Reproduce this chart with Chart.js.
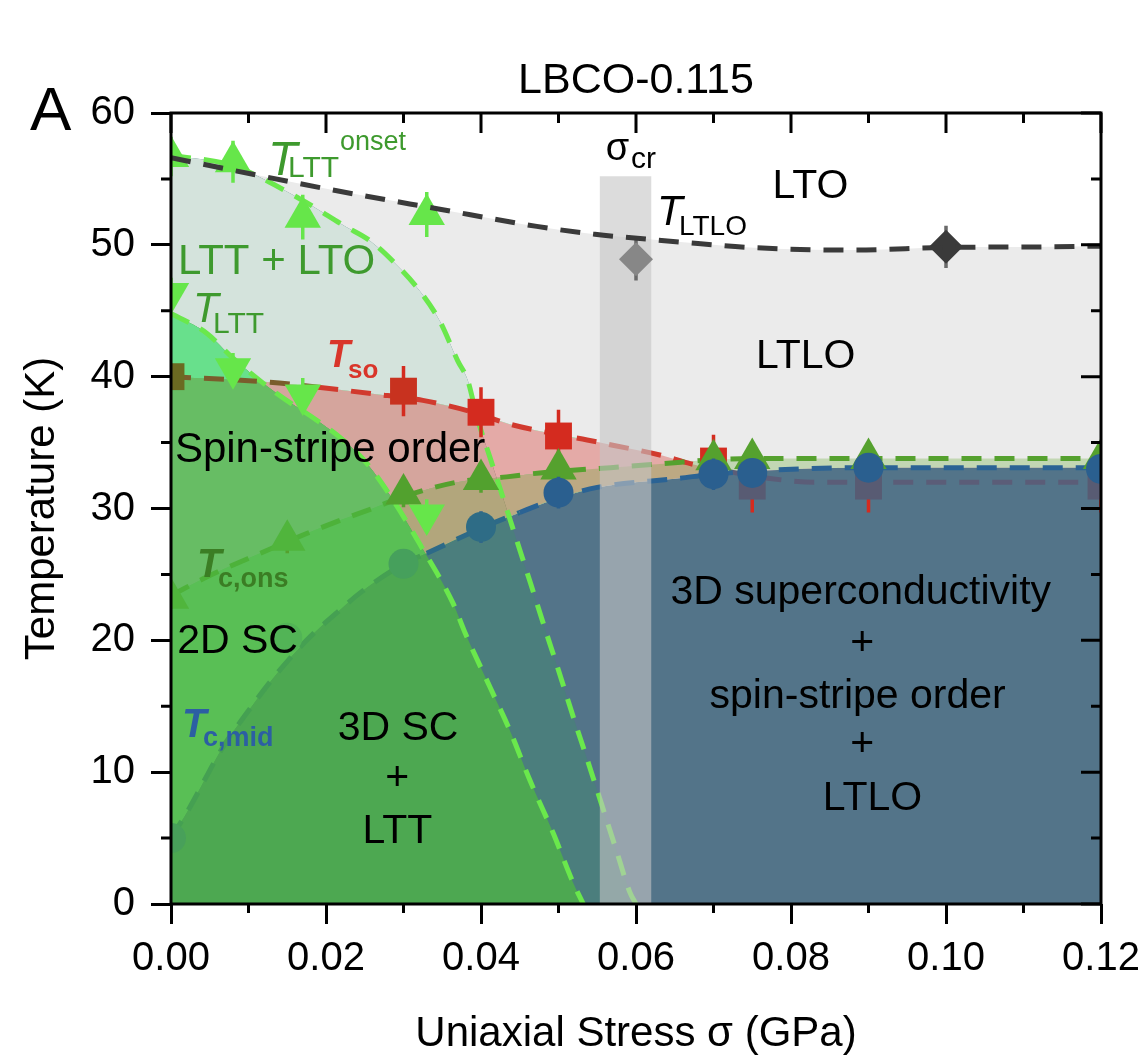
<!DOCTYPE html>
<html>
<head>
<meta charset="utf-8">
<title>LBCO-0.115</title>
<script src="https://cdn.jsdelivr.net/npm/chart.js@4.4.1/dist/chart.umd.min.js"></script>
<style>
  html, body { margin: 0; background: #fff; }
  canvas { display: block; }
</style>
</head>
<body>
<canvas id="chart" width="1146" height="1055"></canvas>
<script>
// phase boundaries (dashed curves), stress in GPa, temperature in K
const ltloSigma = [0, 0.0214, 0.0347, 0.0472, 0.0547, 0.062, 0.068, 0.0747, 0.088, 0.10, 0.114, 0.12];
const ltloT = [56.6, 54.1, 52.7, 51.4, 50.8, 50.4, 50.1, 49.8, 49.6, 49.8, 49.85, 49.9];

const onsetSigma = [0, 0.008, 0.0166, 0.0225, 0.0257, 0.0289, 0.0321, 0.0347, 0.037, 0.0383, 0.0395, 0.0412, 0.0428, 0.0446, 0.0463, 0.0483, 0.0498, 0.0519, 0.0538, 0.0556, 0.0575, 0.0592, 0.0600];
const onsetT = [56.8, 56.0, 53.5, 51.4, 50.3, 48.6, 46.5, 44.2, 41.2, 39.7, 36.9, 33.8, 30.9, 27.6, 24.5, 20.8, 18.1, 14.2, 10.8, 7.5, 4.0, 0.9, 0];

const lttSigma = [0, 0.0046, 0.008, 0.0137, 0.0188, 0.0218, 0.0253, 0.0287, 0.0321, 0.0364, 0.038, 0.0412, 0.0437, 0.0463, 0.0493, 0.0519, 0.0532];
const lttT = [44.8, 43.3, 41.4, 38.7, 36.7, 35.4, 33.4, 30.6, 27.3, 22.8, 20.5, 16.4, 13.2, 9.4, 5.4, 1.6, 0];

const soSigma = [0, 0.0124, 0.019, 0.026, 0.0325, 0.039, 0.0437, 0.05, 0.0537, 0.057, 0.0635, 0.067, 0.072, 0.077, 0.083, 0.095, 0.12];
const soT = [40.0, 39.6, 39.2, 38.7, 38.2, 37.3, 36.4, 35.6, 35.2, 34.8, 34.0, 33.4, 32.8, 32.3, 32.0, 32.0, 32.0];

const consSigma = [0, 0.0046, 0.0115, 0.0175, 0.0218, 0.026, 0.03, 0.0369, 0.0433, 0.0476, 0.0567, 0.0635, 0.07, 0.077, 0.09, 0.12];
const consT = [23.4, 24.8, 26.6, 28.1, 29.1, 30.0, 30.9, 32.0, 32.4, 32.7, 33.1, 33.4, 33.7, 33.8, 33.8, 33.8];

const midSigma = [0, 0.0022, 0.0067, 0.0098, 0.013, 0.0175, 0.0218, 0.0244, 0.03, 0.033, 0.04, 0.045, 0.05, 0.055, 0.0657, 0.07, 0.081, 0.09, 0.10, 0.12];
const midT = [5.0, 7.1, 11.9, 14.5, 17.0, 20.0, 22.3, 23.6, 25.8, 26.6, 28.5, 29.7, 30.8, 31.6, 32.3, 32.6, 33.0, 33.1, 33.1, 33.1];

// critical stress band
const crSigma = [0.0553, 0.062];
const crTop = [55.2, 55.2];

// measured points with error bars
const onsetPtSigma = [0, 0.008, 0.017, 0.033];
const onsetPtT = [56.7, 56.3, 52.1, 52.3];
const onsetPtErr = [1.5, 1.6, 1.7, 1.7];

const lttPtSigma = [0, 0.008, 0.017, 0.033];
const lttPtT = [46.3, 40.6, 38.6, 29.5];
const lttPtErr = [1.2, 1.2, 1.3, 1.2];

const soPtSigma = [0, 0.03, 0.04, 0.05, 0.07, 0.075, 0.09, 0.12];
const soPtT = [40.0, 38.9, 37.3, 35.5, 33.6, 31.7, 31.7, 31.7];
const soPtErr = [0, 1.9, 1.9, 2.0, 2.0, 2.0, 2.0, 2.0];

const consPtSigma = [0, 0.015, 0.03, 0.04, 0.05, 0.07, 0.075, 0.09, 0.12];
const consPtT = [23.2, 27.6, 31.1, 32.2, 33.0, 33.7, 33.8, 33.8, 33.8];
const consPtErr = [0.8, 1.0, 1.0, 1.0, 1.0, 1.2, 1.0, 1.0, 1.0];

const midPtSigma = [0, 0.015, 0.03, 0.04, 0.05, 0.07, 0.075, 0.09, 0.12];
const midPtT = [5.0, 20.2, 25.8, 28.6, 31.2, 32.6, 32.7, 33.1, 33.0];
const midPtErr = [0.8, 1.0, 1.0, 1.2, 1.2, 1.2, 1.0, 1.0, 1.0];

const ltloPtSigma = [0.06, 0.10];
const ltloPtT = [48.9, 49.85];
const ltloPtErr = [1.6, 1.6];

const FONT = '"Liberation Sans", Arial, Helvetica, sans-serif';
const CLEAR = 'rgba(0,0,0,0)';
const BRIGHT = '#66e64a';

const xy = (xs, ys) => xs.map((x, i) => ({ x, y: ys[i] }));
const bars = (xs, ys, es) =>
  xs.flatMap((x, i) => (es[i] ? [{ x, y: ys[i] - es[i] }, { x, y: ys[i] + es[i] }, { x, y: null }] : []));

const segBy = (breaks, colors) => (ctx) => {
  const xm = (ctx.p0.parsed.x + ctx.p1.parsed.x) / 2;
  let i = 0;
  while (i < breaks.length && xm > breaks[i]) i++;
  return colors[i];
};

const curve = (data, color, order, segment) => ({
  data, borderColor: color, borderWidth: 5, borderDash: [20, 13], pointRadius: 0,
  cubicInterpolationMode: 'monotone', fill: false, order, segment,
});

// invisible copy of a boundary, used only as a fill target
const guide = (data) => ({
  data, borderColor: CLEAR, borderWidth: 0, pointRadius: 0,
  cubicInterpolationMode: 'monotone', fill: false, order: 200,
});

const area = (data, fill, color, order) => ({
  data, fill, backgroundColor: color || CLEAR, borderColor: CLEAR, borderWidth: 0,
  pointRadius: 0, cubicInterpolationMode: 'monotone', order,
});

const marks = (data, style, radius, color, order, rotation = 0) => ({
  data, showLine: false, pointStyle: style, pointRadius: radius, pointRotation: rotation,
  pointBackgroundColor: color, pointBorderWidth: 0, pointBorderColor: CLEAR, clip: 0, order,
});

const errs = (data, color, order) => ({
  data, borderColor: color, borderWidth: 3.5, pointRadius: 0, spanGaps: false, fill: false, clip: 0, order,
});

const ltlo = xy(ltloSigma, ltloT);
const onset = xy(onsetSigma, onsetT);
const ltt = xy(lttSigma, lttT);
const so = xy(soSigma, soT);
const cons = xy(consSigma, consT);
const mid = xy(midSigma, midT);

const datasets = [];
const add = (ds) => datasets.push(ds) - 1;

// fill targets
const iSo = add(guide(so));
const iCons = add(guide(cons));
const iMid = add(guide(mid));

// dashed boundary lines
add(curve(ltlo, '#3a3a3a', 20));
add(curve(onset, '#6ae84c', 80));
add(curve(ltt, '#6ae84c', 79));
add(curve(so, '#d13a2e', 78, { borderColor: segBy([0.018, 0.072], ['#7a5d2c', '#d13a2e', '#5b5d78']) }));
add(curve(cons, '#55a12e', 77, { borderColor: segBy([0.03], ['#4db23a', '#55a12e']) }));
add(curve(mid, '#2b6394', 76, { borderColor: segBy([0.033, 0.045], ['#45a052', '#2d6a88', '#2b6394']) }));

// phase regions, bottom to top
add(area(ltlo, 'origin', '#ebebeb', 100));
add(area(mid, 'origin', '#537489', 99));
add(area(onset, 'origin', '#4b7e7d', 98));
add(area(onset, { target: iMid, above: '#d4e3dc', below: CLEAR }, null, 97));
add(area(so, { target: iMid, above: 'rgba(214,50,40,0.35)', below: CLEAR }, null, 96));
add(area(cons, { target: iMid, above: 'rgba(100,170,50,0.3)', below: CLEAR }, null, 95));
add(area(ltt, 'origin', '#4da851', 94));
add(area(ltt, { target: iMid, above: '#59bf55', below: CLEAR }, null, 93));
add(area(ltt, { target: iCons, above: '#67bd64', below: CLEAR }, null, 92));
add(area(ltt, { target: iSo, above: '#68e08c', below: CLEAR }, null, 91));
add(area(xy(crSigma, crTop), 'origin', 'rgba(197,197,197,0.6)', 60));

// markers
const soColors = ['#6b6a22', '#c8321f', '#d42b1f', '#d42b1f', '#d42b1f', '#585b73', '#585b73', '#585b73'];
const consColors = ['#50b53c', '#50b53c', '#52a12e', '#52a12e', '#55a12e', '#55a12e', '#55a12e', '#55a12e', '#55a12e'];
const midColors = ['#48a05a', '#52b456', '#46a05c', '#2e6c86', '#2a5f8f', '#2a5f8f', '#2a5f8f', '#2a5f8f', '#2a5f8f'];
add(errs(bars(soPtSigma, soPtT, soPtErr), '#d42b1f', 50));
add(marks(xy(soPtSigma, soPtT), 'rect', 19, soColors, 49));
add(errs(bars(consPtSigma, consPtT, consPtErr), '#55a12e', 48));
add(marks(xy(consPtSigma, consPtT), 'triangle', 21, consColors, 47));
add(errs(bars(midPtSigma, midPtT, midPtErr), '#2a5f8f', 46));
add(marks(xy(midPtSigma, midPtT), 'circle', 15, midColors, 45));
add(errs(bars(lttPtSigma, lttPtT, lttPtErr), BRIGHT, 44));
add(marks(xy(lttPtSigma, lttPtT), 'triangle', 21, BRIGHT, 43, 180));
add(errs(bars(onsetPtSigma, onsetPtT, onsetPtErr), BRIGHT, 42));
add(marks(xy(onsetPtSigma, onsetPtT), 'triangle', 21, BRIGHT, 41));
add(errs(bars(ltloPtSigma, ltloPtT, ltloPtErr), '#6a6a6a', 30));
add(marks(xy(ltloPtSigma, ltloPtT), 'rectRot', 17, ['#878787', '#3a3a3a'], 29));

const GREEN = '#3e9a2e';
const f = (size, style = '') => `${style} ${size}px ${FONT}`.trim();

const decor = {
  id: 'decor',
  afterDraw(chart) {
    const { ctx, chartArea: a } = chart;
    const X = (v) => chart.scales.x.getPixelForValue(v);
    const Y = (v) => chart.scales.y.getPixelForValue(v);
    ctx.save();

    // frame, minor ticks and mirrored inner ticks
    ctx.strokeStyle = '#000';
    ctx.lineWidth = 3;
    ctx.beginPath();
    for (let i = 0; i <= 12; i++) {
      const px = X(i / 100), major = i % 2 === 0;
      if (!major) { ctx.moveTo(px, a.bottom); ctx.lineTo(px, a.bottom + 9); }
      ctx.moveTo(px, a.top); ctx.lineTo(px, a.top + (major ? 20 : 10));
    }
    for (let i = 0; i <= 12; i++) {
      const py = Y(i * 5), major = i % 2 === 0;
      if (!major) { ctx.moveTo(a.left - 10, py); ctx.lineTo(a.left, py); }
      ctx.moveTo(a.right, py); ctx.lineTo(a.right - (major ? 20 : 10), py);
    }
    ctx.stroke();
    ctx.strokeRect(a.left, a.top, a.right - a.left, a.bottom - a.top);

    const put = (s, px, py, font, color = '#000', align = 'left') => {
      ctx.font = font;
      ctx.fillStyle = color;
      ctx.textAlign = align;
      ctx.textBaseline = 'alphabetic';
      ctx.fillText(s, px, py);
    };

    // title, panel letter, axis titles
    put('LBCO-0.115', (a.left + a.right) / 2, 93, f(43), '#000', 'center');
    put('A', 30, 130, f(62));
    put('Uniaxial Stress \u03c3 (GPa)', (a.left + a.right) / 2, 1046, f(42), '#000', 'center');
    ctx.save();
    ctx.translate(42, (a.top + a.bottom) / 2);
    ctx.rotate(-Math.PI / 2);
    ctx.font = f(42);
    ctx.textAlign = 'center';
    ctx.textBaseline = 'middle';
    ctx.fillStyle = '#000';
    ctx.fillText('Temperature (K)', 0, 0);
    ctx.restore();

    // phase labels
    put('LTO', X(0.0825), Y(53.55), f(41), '#000', 'center');
    put('LTLO', X(0.0819), Y(40.66), f(41), '#000', 'center');
    put('LTT + LTO', X(0.0009), Y(47.75), f(42), GREEN);
    put('Spin-stripe order', X(0.0005), Y(33.53), f(42));
    put('2D SC', X(0.0008), Y(19.04), f(41));
    put('3D SC', X(0.0293), Y(12.44), f(41), '#000', 'center');
    put('+', X(0.0292), Y(8.65), f(41), '#000', 'center');
    put('LTT', X(0.0292), Y(4.63), f(41), '#000', 'center');
    put('3D superconductivity', X(0.089), Y(22.76), f(41), '#000', 'center');
    put('+', X(0.0892), Y(18.89), f(41), '#000', 'center');
    put('spin-stripe order', X(0.0886), Y(14.87), f(41), '#000', 'center');
    put('+', X(0.0892), Y(11.23), f(41), '#000', 'center');
    put('LTLO', X(0.0905), Y(7.13), f(41), '#000', 'center');

    // transition labels
    put('\u03c3', X(0.0561), Y(56.44), f(38));
    put('cr', X(0.05935), Y(55.83), f(30));
    put('T', X(0.0627), Y(51.5), f(42, 'italic'));
    put('LTLO', X(0.06555), Y(50.74), f(28));
    put('T', X(0.0125), Y(55.3), f(48, 'italic'), GREEN);
    put('LTT', X(0.0151), Y(55.15), f(30), GREEN);
    put('onset', X(0.0218), Y(57.2), f(27), GREEN);
    put('T', X(0.00284), Y(44.15), f(42, 'italic'), GREEN);
    put('LTT', X(0.00542), Y(43.3), f(30), GREEN);
    put('T', X(0.02013), Y(40.73), f(38, 'italic bold'), '#d9352a');
    put('so', X(0.02284), Y(39.9), f(26, 'bold'), '#d9352a');
    put('T', X(0.00335), Y(24.8), f(40, 'italic bold'), '#3b7d24');
    put('c,ons', X(0.00606), Y(24.05), f(27, 'bold'), '#3b7d24');
    put('T', X(0.00142), Y(12.67), f(40, 'italic bold'), '#2c5fa3');
    put('c,mid', X(0.00413), Y(11.99), f(27, 'bold'), '#2c5fa3');

    ctx.restore();
  },
};

const tickFont = { family: FONT, size: 40 };
const tickGrid = {
  display: true, drawOnChartArea: false, drawTicks: true,
  tickLength: 20, tickWidth: 3, tickColor: '#000',
};

new Chart(document.getElementById('chart'), {
  type: 'line',
  data: { datasets },
  options: {
    responsive: false,
    animation: false,
    devicePixelRatio: 1,
    events: [],
    layout: { padding: { top: 113, right: 45, bottom: 0, left: 0 } },
    plugins: {
      legend: { display: false },
      title: { display: false },
      tooltip: { enabled: false },
    },
    scales: {
      x: {
        type: 'linear', min: 0, max: 0.12, z: 1,
        ticks: {
          stepSize: 0.02, color: '#000', font: tickFont, padding: 11,
          maxRotation: 0, autoSkip: false, callback: (v) => v.toFixed(2),
        },
        grid: tickGrid,
        border: { display: false },
        afterFit: (s) => { s.height = 151; s.paddingLeft = 0; s.paddingRight = 0; },
      },
      y: {
        type: 'linear', min: 0, max: 60, z: 1,
        ticks: { stepSize: 10, color: '#000', font: tickFont, padding: 16 },
        grid: tickGrid,
        border: { display: false },
        afterFit: (s) => { s.width = 171; },
      },
    },
  },
  plugins: [decor],
});
</script>
</body>
</html>
